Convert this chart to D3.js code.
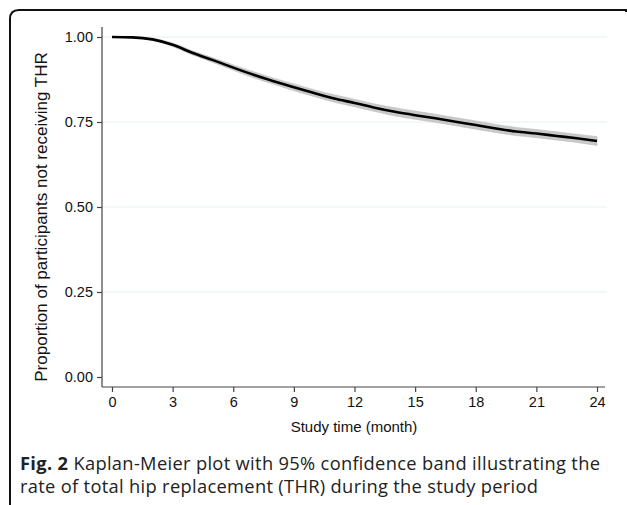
<!DOCTYPE html>
<html>
<head>
<meta charset="utf-8">
<script src="https://cdn.jsdelivr.net/npm/d3@7"></script>
<style>
  html, body { margin: 0; padding: 0; background: #fff; }
  svg { display: block; }
</style>
</head>
<body>
<svg id="chart" width="627" height="505"></svg>
<script>
// ---- data ----
const months   = [0,1,2,3,4,5,6,7,8,9,10,11,12,13,14,15,16,17,18,19,20,21,22,23,24];
const survival = [1.000,0.999,0.993,0.977,0.953,0.932,0.910,0.889,0.870,0.852,0.835,0.819,0.806,0.792,0.780,0.770,0.761,0.751,0.741,0.731,0.722,0.716,0.709,0.702,0.694];
const lowerCI  = [1.000,0.998,0.990,0.972,0.947,0.925,0.902,0.880,0.861,0.842,0.825,0.808,0.795,0.781,0.768,0.758,0.749,0.739,0.729,0.719,0.710,0.704,0.697,0.690,0.681];
const upperCI  = [1.000,1.000,0.996,0.982,0.959,0.939,0.918,0.898,0.879,0.862,0.845,0.830,0.817,0.803,0.792,0.782,0.773,0.763,0.753,0.743,0.734,0.728,0.721,0.714,0.707];
const xTicks = [0,3,6,9,12,15,18,21,24];
const yTicks = [0,0.25,0.5,0.75,1];
const yGrid  = [0.25,0.5,0.75,1];
const xTitle = "Study time (month)";
const yTitle = "Proportion of participants not receiving THR";
const captionBold = "Fig. 2";
const captionLine1 = " Kaplan-Meier plot with 95% confidence band illustrating the";
const captionLine2 = "rate of total hip replacement (THR) during the study period";

const rows = months.map((m, i) => ({m, s: survival[i], lo: lowerCI[i], hi: upperCI[i]}));

const svg = d3.select("#chart");
const x = d3.scaleLinear().domain([0, 24]).range([112, 597]);
const y = d3.scaleLinear().domain([0, 1]).range([377, 37]);

const plotLeft = 102, plotRight = 607, plotTop = 27, plotBottom = 387;

// frame (rounded top-left corner)
const r = 9;
svg.append("path")
  .attr("d", `M10,505 L10,${10 + r} Q10,10 ${10 + r},10 L626,10 L626,12`)
  .attr("fill", "none").attr("stroke", "#111").attr("stroke-width", 2);

// grid lines
svg.append("g").selectAll("line").data(yGrid).join("line")
  .attr("x1", plotLeft).attr("x2", plotRight)
  .attr("y1", d => y(d)).attr("y2", d => y(d))
  .attr("stroke", "#e8f0f2").attr("stroke-width", 1.2);

// confidence band
svg.append("path").datum(rows)
  .attr("d", d3.area().x(d => x(d.m)).y0(d => y(d.lo)).y1(d => y(d.hi)).curve(d3.curveMonotoneX))
  .attr("fill", "#c9c9c9").attr("stroke", "#bdbdbd").attr("stroke-width", 0.6);

// survival line
svg.append("path").datum(rows)
  .attr("d", d3.line().x(d => x(d.m)).y(d => y(d.s)).curve(d3.curveMonotoneX))
  .attr("fill", "none").attr("stroke", "#000").attr("stroke-width", 2.6);

// axes
const font = "'Liberation Sans', Arial, sans-serif";
const yAxis = svg.append("g").attr("transform", `translate(${plotLeft},0)`)
  .call(d3.axisLeft(y).tickValues(yTicks).tickFormat(d3.format(".2f")).tickSize(5).tickPadding(4));
yAxis.select(".domain").attr("d", `M0,${plotTop}V${plotBottom}`);
const xAxis = svg.append("g").attr("transform", `translate(0,${plotBottom})`)
  .call(d3.axisBottom(x).tickValues(xTicks).tickSize(5).tickPadding(5));
xAxis.select(".domain").attr("d", `M${plotLeft},0H${plotRight - 2}`);
[yAxis, xAxis].forEach(g => {
  g.selectAll(".domain").attr("stroke", "#444").attr("stroke-width", 1.2);
  g.selectAll(".tick line").attr("stroke", "#444").attr("stroke-width", 1.2);
  g.selectAll("text").attr("font-family", font).attr("font-size", 14.5).attr("fill", "#111");
});

// axis titles
svg.append("text").attr("x", 354).attr("y", 432).attr("text-anchor", "middle")
  .attr("font-family", font).attr("font-size", 15).attr("fill", "#111").text(xTitle);
svg.append("text").attr("transform", "translate(47,217) rotate(-90)").attr("text-anchor", "middle")
  .attr("font-family", font).attr("font-size", 17).attr("fill", "#111").text(yTitle);

// caption
const cap = svg.append("text").attr("x", 20).attr("y", 470)
  .attr("font-family", "'Open Sans', sans-serif").attr("font-size", 18.3).attr("fill", "#222")
  .attr("textLength", 580).attr("lengthAdjust", "spacing");
cap.append("tspan").attr("font-weight", "bold").text(captionBold);
cap.append("tspan").text(captionLine1);
svg.append("text").attr("x", 20).attr("y", 493)
  .attr("font-family", "'Open Sans', sans-serif").attr("font-size", 18.3).attr("fill", "#222")
  .attr("textLength", 518).attr("lengthAdjust", "spacing")
  .text(captionLine2);
</script>
</body>
</html>
